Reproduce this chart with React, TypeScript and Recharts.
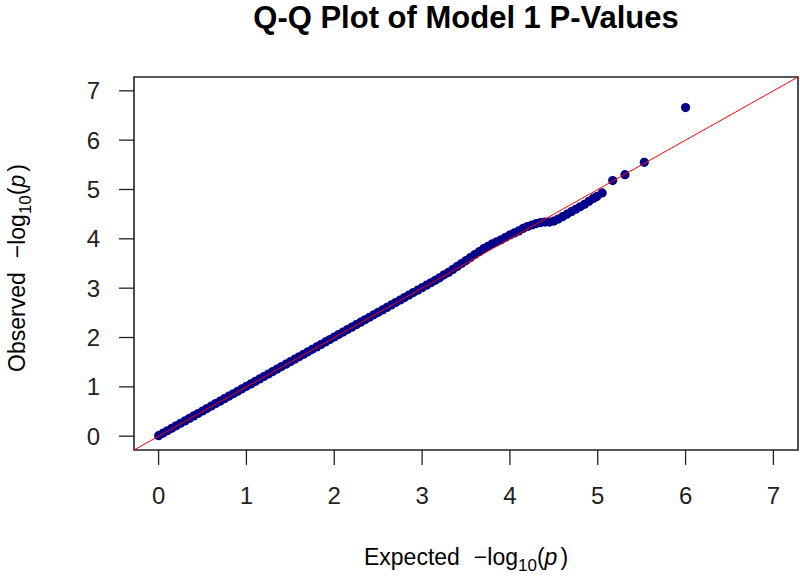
import React from 'react';
import { ScatterChart, Scatter, XAxis, YAxis, ReferenceArea } from 'recharts';

// tick values on both axes
const xTicks = [0, 1, 2, 3, 4, 5, 6, 7];
const yTicks = [0, 1, 2, 3, 4, 5, 6, 7];

// expected -log10(p)
const expected = [
    0.00, 0.05, 0.10, 0.15, 0.20, 0.25, 0.30, 0.35, 0.40, 0.45,
    0.50, 0.55, 0.60, 0.65, 0.70, 0.75, 0.80, 0.85, 0.90, 0.95,
    1.00, 1.05, 1.10, 1.15, 1.20, 1.25, 1.30, 1.35, 1.40, 1.45,
    1.50, 1.55, 1.60, 1.65, 1.70, 1.75, 1.80, 1.85, 1.90, 1.95,
    2.00, 2.05, 2.10, 2.15, 2.20, 2.25, 2.30, 2.35, 2.40, 2.45,
    2.50, 2.55, 2.60, 2.65, 2.70, 2.75, 2.80, 2.85, 2.90, 2.95,
    3.00, 3.05, 3.10, 3.15, 3.20, 3.25, 3.30, 3.35,
    3.40, 3.45, 3.50, 3.55, 3.60, 3.65, 3.70, 3.75, 3.80, 3.85,
    3.90, 3.95, 4.00, 4.05, 4.10, 4.15, 4.20, 4.25, 4.30, 4.35,
    4.40, 4.45, 4.50, 4.55, 4.60, 4.65, 4.70, 4.75, 4.80, 4.85,
    4.90, 4.95, 4.99, 5.05, 5.17, 5.31, 5.53, 6.00,
];

// observed -log10(p)
const observed = [
    0.01, 0.06, 0.11, 0.16, 0.21, 0.26, 0.31, 0.36, 0.41, 0.46,
    0.51, 0.56, 0.61, 0.66, 0.71, 0.76, 0.81, 0.86, 0.91, 0.96,
    1.01, 1.06, 1.11, 1.16, 1.21, 1.26, 1.31, 1.36, 1.41, 1.46,
    1.51, 1.56, 1.61, 1.66, 1.71, 1.76, 1.81, 1.86, 1.91, 1.96,
    2.01, 2.06, 2.11, 2.16, 2.21, 2.26, 2.31, 2.36, 2.41, 2.46,
    2.51, 2.56, 2.61, 2.66, 2.71, 2.76, 2.81, 2.86, 2.91, 2.96,
    3.01, 3.06, 3.11, 3.16, 3.21, 3.27, 3.32, 3.38,
    3.44, 3.50, 3.56, 3.62, 3.68, 3.74, 3.80, 3.85, 3.90, 3.94,
    3.98, 4.03, 4.08, 4.12, 4.16, 4.21, 4.25, 4.28, 4.31, 4.33,
    4.34, 4.34, 4.36, 4.40, 4.45, 4.50, 4.55, 4.60, 4.65, 4.70,
    4.76, 4.82, 4.86, 4.93, 5.18, 5.30, 5.55, 6.66,
];

const lo = -0.28;
const hi = 7.28;
const font = '"Liberation Sans", Arial, sans-serif';

const points = expected.map((x, i) => ({ x, y: observed[i] }));
// y = x reference line, corner to corner of the plot box
const diagonal = [{ x: lo, y: lo }, { x: hi, y: hi }];

const Dot = (props: any) => <circle cx={props.cx} cy={props.cy} r={4.6} fill="#00008B" />;
const NoDot = () => <g />;

const XLabel = (props: any) => {
    const vb = props.viewBox;
    return (
        <text x={vb.x + vb.width / 2} y={vb.y + 115} textAnchor="middle" fontFamily={font} fontSize={23} fill="#000">
            <tspan>Expected</tspan>
            <tspan dx={14}>−log</tspan>
            <tspan dy={6} fontSize={17}>10</tspan>
            <tspan dy={-6}>(</tspan>
            <tspan fontStyle="italic">p</tspan>
            <tspan dx={3}>)</tspan>
        </text>
    );
};

const YLabel = () => {
    const cx = 25;
    const cy = 268;
    return (
        <text x={cx} y={cy} transform={`rotate(-90 ${cx} ${cy})`} textAnchor="middle" fontFamily={font} fontSize={23} fill="#000">
            <tspan>Observed</tspan>
            <tspan dx={14}>−log</tspan>
            <tspan dy={6} fontSize={17}>10</tspan>
            <tspan dy={-6}>(</tspan>
            <tspan fontStyle="italic">p</tspan>
            <tspan dx={3}>)</tspan>
        </text>
    );
};

export default function App() {
    return (
        <div style={{ position: 'absolute', left: 0, top: 0, width: 800, height: 577, background: '#fff' }}>
            <div
                style={{
                    position: 'absolute',
                    left: 0,
                    top: 0,
                    width: 932,
                    textAlign: 'center',
                    fontFamily: font,
                    fontWeight: 'bold',
                    fontSize: 31,
                    lineHeight: 'normal',
                }}
            >
                Q-Q Plot of Model 1 P-Values
            </div>
            <ScatterChart width={800} height={577} margin={{ top: 77, right: 2, bottom: 0, left: 0 }}>
                <XAxis
                    type="number"
                    dataKey="x"
                    domain={[lo, hi]}
                    ticks={xTicks}
                    allowDataOverflow
                    axisLine={false}
                    tickLine={{ stroke: '#222', strokeWidth: 1.3 }}
                    tickSize={15}
                    tickMargin={22}
                    height={127}
                    tick={{ fill: '#222', fontSize: 24, fontFamily: font }}
                    label={<XLabel />}
                />
                <YAxis
                    type="number"
                    dataKey="y"
                    domain={[lo, hi]}
                    ticks={yTicks}
                    allowDataOverflow
                    axisLine={false}
                    tickLine={{ stroke: '#222', strokeWidth: 1.3 }}
                    tickSize={15}
                    tickMargin={19}
                    width={134}
                    tick={{ fill: '#222', fontSize: 24, fontFamily: font }}
                    label={<YLabel />}
                />
                <Scatter data={points} shape={<Dot />} isAnimationActive={false} />
                <Scatter
                    data={diagonal}
                    shape={<NoDot />}
                    line={{ stroke: '#FF0000', strokeWidth: 1 }}
                    isAnimationActive={false}
                />
                <ReferenceArea x1={lo} x2={hi} y1={lo} y2={hi} fill="none" fillOpacity={0} stroke="#222" strokeWidth={1.6} />
            </ScatterChart>
        </div>
    );
}
